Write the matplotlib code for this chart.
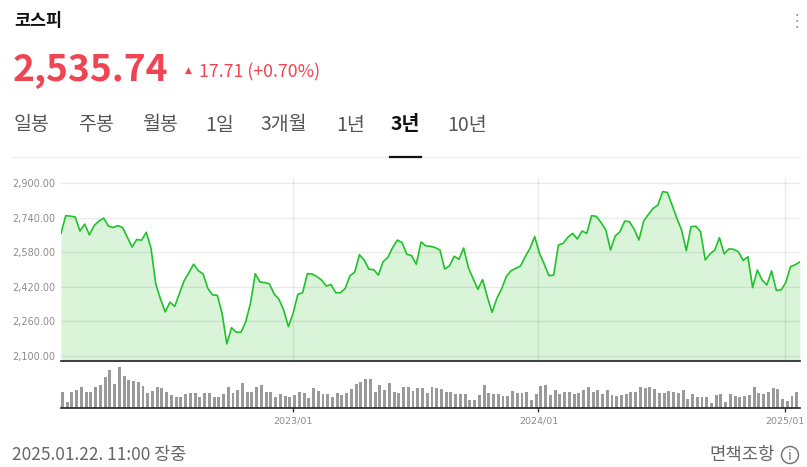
import matplotlib
matplotlib.use("Agg")
import matplotlib.pyplot as plt
from matplotlib.patches import Circle
import numpy as np
import pandas as pd

# ---------------- data ----------------
title = "코스피"
last_price = "2,535.74"
change_text = "17.71 (+0.70%)"
tabs = ["일봉", "주봉", "월봉", "1일", "3개월", "1년", "3년", "10년"]
active_tab = "3년"
footer_left = "2025.01.22. 11:00 장중"
footer_right = "면책조항"

start_date = "2022-01-21"
end_date = "2025-01-24"
tick_dates = ["2023-01-01", "2024-01-01", "2025-01-01"]
tick_labels = ["2023/01", "2024/01", "2025/01"]

price_ticks = [2100, 2260, 2420, 2580, 2740, 2900]

prices = [
    2668, 2750, 2748, 2744, 2679, 2711, 2661, 2704, 2725, 2739, 2702, 2695, 2704, 2695, 2650, 2605,
    2640, 2636, 2673, 2599, 2434, 2364, 2304, 2349, 2330, 2390, 2449, 2486, 2525, 2495, 2480,
    2413, 2383, 2381, 2298, 2156, 2231, 2210, 2210, 2259, 2344, 2481, 2443, 2440, 2434, 2387, 2363,
    2313, 2236, 2298, 2386, 2393, 2481, 2480, 2468, 2452, 2424, 2431, 2393, 2393, 2413, 2472,
    2488, 2569, 2545, 2502, 2500, 2475, 2537, 2557, 2602, 2637, 2625, 2571, 2565, 2525, 2628, 2610,
    2608, 2602, 2591, 2503, 2517, 2562, 2548, 2600, 2509, 2458, 2409, 2454, 2373, 2302,
    2367, 2410, 2468, 2495, 2506, 2517, 2560, 2599, 2653, 2576, 2526, 2472, 2475, 2614, 2622, 2650,
    2668, 2642, 2679, 2668, 2750, 2747, 2718, 2684, 2591, 2656, 2676, 2725, 2722, 2687, 2637, 2725, 2756,
    2784, 2799, 2861, 2858, 2799, 2738, 2684, 2588, 2699, 2701, 2676, 2545, 2573, 2591, 2648, 2573,
    2596, 2594, 2583, 2542, 2560, 2417, 2498, 2452, 2429, 2494, 2404, 2406, 2440, 2514, 2523, 2535.74,
]

volumes = [
    50, 20, 50, 55, 65, 50, 50, 65, 70, 95, 115, 73, 125, 97, 85, 82, 80, 67, 45, 52,
    65, 60, 50, 40, 35, 35, 42, 45, 45, 35, 45, 45, 33, 35, 42, 63, 47, 55, 75, 50,
    50, 65, 70, 50, 48, 35, 42, 38, 35, 40, 48, 45, 30, 60, 53, 43, 43, 35, 45, 41,
    45, 57, 73, 80, 88, 88, 48, 70, 55, 75, 50, 45,
    65, 65, 52, 60, 60, 47, 63, 62, 57, 50, 48, 42, 42, 43, 25, 25, 40, 70, 45,
    43, 43, 37, 37, 52, 47, 47, 48, 25, 43, 67, 70, 40, 55, 42, 50, 50, 43, 47, 55,
    63, 50, 55, 42, 55, 40, 37, 40, 42, 50, 48, 63, 60, 63, 59, 45, 45, 53, 48, 45,
    55, 27, 42, 33, 35, 33, 17, 40, 42, 19, 43, 37, 35, 37, 40, 63, 45, 43, 50, 60,
    57, 27, 22, 37, 49, 27,
]

# ---------------- style ----------------
plt.rcParams['font.family'] = ['Noto Sans CJK KR', 'DejaVu Sans']
RED = "#f04452"
LINE = "#1fc22a"
FILL = "#d9f4d9"
GREY_TXT = "#8c8c8c"

W, H = 807, 467
fig = plt.figure(figsize=(W / 100, H / 100), dpi=100)
fig.patch.set_facecolor("white")


def fx(x):
    return x / W


def fy(y):
    return 1 - y / H


# header
fig.text(fx(14), fy(21), title, fontsize=12.5, weight="bold", color="#111", va="center", ha="left")
fig.text(fx(797), fy(21), "⋮", fontsize=12, color="#999", va="center", ha="center",
         family=["DejaVu Sans"])
fig.text(fx(13), fy(80), last_price, fontsize=26.8, weight="bold", color=RED, va="baseline", ha="left")
fig.text(fx(188.5), fy(70), "▲", fontsize=6.5, color=RED, va="center", ha="center",
         family=["DejaVu Sans"])
fig.text(fx(199), fy(72), change_text, fontsize=12.8, color=RED, va="center", ha="left")

# tabs
tab_x = [14, 78, 142, 205, 260, 336, 391, 447]
for t, x in zip(tabs, tab_x):
    if t == active_tab:
        fig.text(fx(x), fy(125), t, fontsize=14, weight="bold", color="#111", va="center", ha="left")
    else:
        fig.text(fx(x), fy(125), t, fontsize=14, color="#555", va="center", ha="left")
fig.add_artist(plt.Line2D([fx(12), fx(800)], [fy(157), fy(157)], color="#eeeeee", lw=1))
fig.add_artist(plt.Line2D([fx(390), fx(421)], [fy(157), fy(157)], color="#111", lw=1.6))

# ---------------- price chart ----------------
n = len(prices)
idx = np.arange(n)
t0 = pd.Timestamp(start_date)
t1 = pd.Timestamp(end_date)
tick_pos = [(pd.Timestamp(d) - t0) / (t1 - t0) * (n - 1) for d in tick_dates]

ax = fig.add_axes([fx(61), fy(361), (800 - 61) / W, (361 - 178) / H])
ylo, yhi = 2076.8, 2924.5
ax.fill_between(idx, prices, ylo, color=FILL, lw=0, zorder=1)
ax.plot(idx, prices, color=LINE, lw=1.2, zorder=3)
ax.set_xlim(0, n - 1)
ax.set_ylim(ylo, yhi)
ax.set_yticks(price_ticks)
ax.set_yticklabels([f"{v:,.2f}" for v in price_ticks], family=["DejaVu Sans"])
ax.tick_params(axis="y", length=0, pad=4, labelsize=7, labelcolor=GREY_TXT)
ax.set_xticks([])
for v in price_ticks:
    ax.axhline(v, color="black", alpha=0.08, lw=1, zorder=2)
for p in tick_pos:
    ax.axvline(p, color="black", alpha=0.08, lw=1, zorder=2)
for s in ["top", "left", "right"]:
    ax.spines[s].set_visible(False)
ax.spines["bottom"].set_color("#222")
ax.spines["bottom"].set_linewidth(1.2)
ax.set_facecolor("none")

# ---------------- volume chart ----------------
axv = fig.add_axes([fx(61), fy(408.3), (800 - 61) / W, (408.3 - 362) / H])
axv.bar(idx, volumes, width=0.62, align="edge", color="#9a9a9a", lw=0)
axv.set_xlim(0, n - 1)
axv.set_ylim(0, 139)
axv.set_yticks([])
axv.set_xticks(tick_pos)
axv.set_xticklabels(tick_labels, family=["DejaVu Sans"])
axv.tick_params(axis="x", length=3, width=1, color="#333", pad=3, labelsize=6.8, labelcolor=GREY_TXT)
for s in ["top", "left", "right"]:
    axv.spines[s].set_visible(False)
axv.spines["bottom"].set_color("#222")
axv.spines["bottom"].set_linewidth(1.2)
axv.set_facecolor("none")

# footer
fig.text(fx(12), fy(455), footer_left, fontsize=12.5, color="#666", va="center", ha="left")
fig.text(fx(775), fy(455), footer_right, fontsize=12.8, color="#666", va="center", ha="right")
circ = Circle((790, H - 455), 8.5, fill=False, ec="#777", lw=1.1)
circ.set_transform(matplotlib.transforms.IdentityTransform())
fig.add_artist(circ)
fig.text(fx(790), fy(455.5), "i", fontsize=10, color="#777", va="center", ha="center",
         family=["DejaVu Sans"])

fig.savefig("out.png", dpi=100, facecolor="white")
